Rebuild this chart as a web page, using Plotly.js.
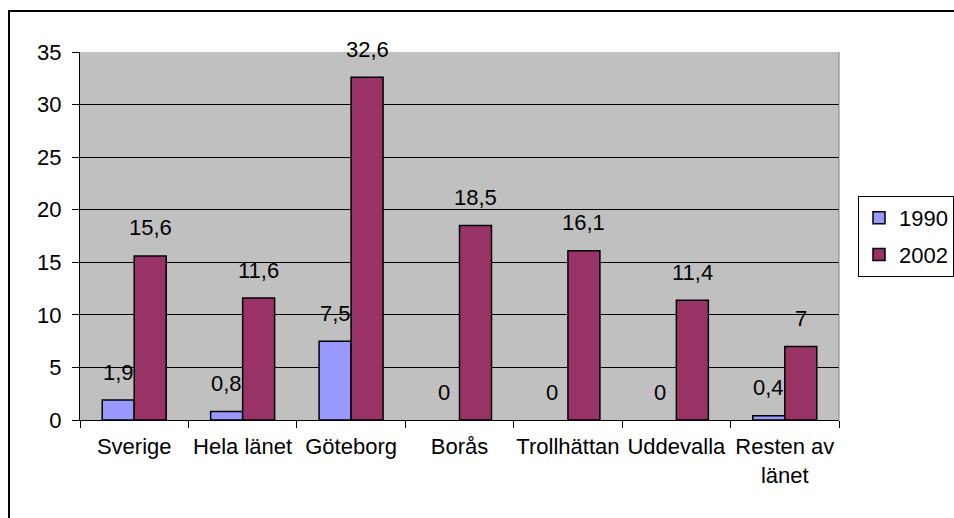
<!DOCTYPE html>
<html>
<head>
<meta charset="utf-8">
<script src="https://cdn.plot.ly/plotly-3.0.1.min.js"></script>
<style>
html,body{margin:0;padding:0;background:#fff;}
#wrap{position:relative;width:954px;height:518px;overflow:hidden;}
#chart{width:954px;height:518px;}
#frame{position:absolute;left:8px;top:10px;width:2000px;height:2000px;border-left:2px solid #000;border-top:2px solid #000;pointer-events:none;}
</style>
</head>
<body>
<div id="wrap"><div id="chart"></div><div id="frame"></div></div>
<script>
const categories = ["Sverige", "Hela länet", "Göteborg", "Borås", "Trollhättan", "Uddevalla", "Resten av<br>länet"];
const values1990 = [1.9, 0.8, 7.5, 0, 0, 0, 0.4];
const values2002 = [15.6, 11.6, 32.6, 18.5, 16.1, 11.4, 7];
const seriesNames = ["1990", "2002"];
const yTicks = [0, 5, 10, 15, 20, 25, 30, 35];

const W = 954, H = 518;
const margin = {l: 80, r: 115, t: 52, b: 98};
const plotW = W - margin.l - margin.r;
const plotH = H - margin.t - margin.b;
const bargap = 0.41;
const barPx = plotW / categories.length * (1 - bargap) / 2;
const fontFam = '"Liberation Sans", Arial, sans-serif';
const FS = 22;
const fmt = v => String(v).replace('.', ',');
const outline = vals => vals.map(v => v > 0 ? 1.5 : 0);

const traces = [
  {type: 'bar', name: seriesNames[0], x: categories, y: values1990, legendgroup: 'a',
   marker: {color: '#9999FF', line: {color: '#000', width: outline(values1990)}}, hoverinfo: 'none'},
  {type: 'bar', name: seriesNames[1], x: categories, y: values2002, legendgroup: 'b',
   marker: {color: '#993366', line: {color: '#000', width: outline(values2002)}}, hoverinfo: 'none'}
];

const annotations = [];
[values1990, values2002].forEach((vals, si) => {
  vals.forEach((v, i) => {
    annotations.push({
      x: categories[i], y: v, xref: 'x', yref: 'y',
      text: fmt(v), showarrow: false,
      xshift: (si === 0 ? -1 : 1) * barPx / 2, yshift: 28,
      font: {family: fontFam, size: FS, color: '#000'}
    });
  });
});

const layout = {
  width: W, height: H, margin: margin,
  paper_bgcolor: '#fff', plot_bgcolor: '#C0C0C0',
  font: {family: fontFam, size: FS, color: '#000'},
  barmode: 'group', bargap: bargap, bargroupgap: 0,
  showlegend: true,
  legend: {xref: 'container', yref: 'container', x: 858 / W, xanchor: 'left', y: 1 - 196 / H, yanchor: 'top',
           bordercolor: '#000', borderwidth: 1, bgcolor: '#fff',
           traceorder: 'grouped', tracegroupgap: 5,
           font: {family: fontFam, size: FS, color: '#000'}},
  xaxis: {type: 'category', tickson: 'boundaries', ticks: 'outside', ticklen: 7, tickcolor: '#000',
          tickangle: 0, ticklabelstandoff: 7, automargin: false,
          showline: true, linecolor: '#000', linewidth: 1, showgrid: false,
          tickfont: {family: fontFam, size: FS}, fixedrange: true},
  yaxis: {range: [0, 35], tickvals: yTicks, ticks: 'outside', ticklen: 7, tickcolor: '#000',
          ticklabelstandoff: 6, automargin: false,
          showline: true, linecolor: '#000', linewidth: 1, showgrid: true, gridcolor: '#000', gridwidth: 1,
          zeroline: false, tickfont: {family: fontFam, size: FS}, fixedrange: true},
  annotations: annotations,
  shapes: [
    {type: 'line', xref: 'paper', yref: 'paper', x0: 1, x1: 1, y0: 0, y1: 1, line: {color: '#808080', width: 1}}
  ]
};

Plotly.newPlot('chart', traces, layout, {displayModeBar: false, staticPlot: true});
</script>
</body>
</html>
